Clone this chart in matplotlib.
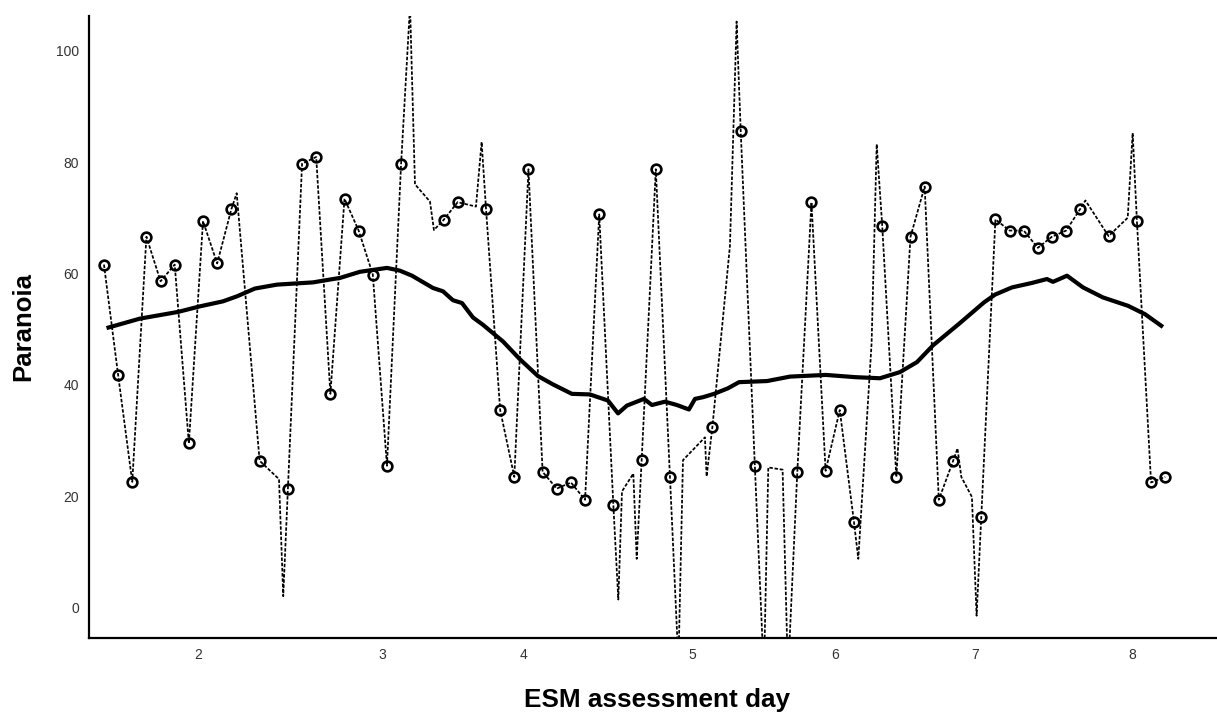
import matplotlib
matplotlib.use("Agg")
import matplotlib.pyplot as plt

plt.rcParams['font.family'] = ['Liberation Sans', 'DejaVu Sans']

# dashed series: all vertices (assessment position, paranoia value); observed flag = drawn with circle
path_pos = [1, 2, 3, 4, 5, 6, 7, 8, 9, 10, 10.38, 12, 13.37, 13.67, 14, 15, 16, 17, 18, 19,
            20, 21, 22, 22.63, 22.98, 24.04, 24.32, 25, 26, 27.29, 27.69, 28, 29, 30, 31, 32,
            33, 34, 35, 36, 37, 37.35, 37.61, 38.41, 38.65, 39, 40, 41, 41.6, 41.92, 43.47,
            43.59, 44, 45.24, 45.71, 46, 47, 47.64, 47.95, 48.96, 49.34, 50, 51, 52, 53, 54,
            54.31, 55.25, 55.61, 56, 57, 58, 59, 60, 61, 61.32, 61.59, 62.34, 62.67, 63, 64,
            65, 66, 67, 68, 69, 70, 70.36, 72, 73.35, 73.7, 74, 75, 76]
path_val = [61.6, 41.8, 22.6, 66.6, 58.6, 61.6, 29.5, 69.4, 61.8, 71.5, 74.4, 26.4, 23.1, 2.1,
            21.4, 79.7, 80.9, 38.4, 73.4, 67.7, 59.8, 25.5, 79.7, 108.0, 76.0, 72.9, 67.8, 69.6,
            72.8, 72.0, 83.6, 71.6, 35.5, 23.5, 78.7, 24.4, 21.4, 22.5, 19.4, 70.6, 18.4, 1.5,
            20.9, 24.1, 8.8, 26.5, 78.7, 23.5, -10.0, 26.5, 30.6, 23.6, 32.5, 65.0, 105.2, 85.6,
            25.4, -12.0, 25.2, 24.8, -12.0, 24.4, 72.8, 24.6, 35.5, 15.5, 8.8, 47.5, 83.2, 68.6,
            23.5, 66.6, 75.6, 19.4, 26.3, 28.6, 23.5, 19.9, -1.4, 16.3, 69.7, 67.7, 67.7, 64.6,
            66.6, 67.7, 71.6, 73.1, 66.7, 70.0, 85.2, 69.4, 22.5, 23.5]
observed = [1, 1, 1, 1, 1, 1, 1, 1, 1, 1, 0, 1, 0, 0, 1, 1, 1, 1, 1, 1,
            1, 1, 1, 0, 0, 0, 0, 1, 1, 0, 0, 1, 1, 1, 1, 1,
            1, 1, 1, 1, 1, 0, 0, 0, 0, 1, 1, 1, 0, 0, 0,
            0, 1, 0, 0, 1, 1, 0, 0, 0, 0, 1, 1, 1, 1, 1,
            0, 0, 0, 1, 1, 1, 1, 1, 1, 0, 0, 0, 0, 1, 1,
            1, 1, 1, 1, 1, 1, 0, 1, 0, 0, 1, 1, 1]

# smoothed trend line
trend_pos = [1.18, 3.54, 6.23, 7.78, 9.41, 10.40, 11.67, 13.23, 15.77, 17.18, 17.68, 19.09,
             21.0, 21.92, 22.77, 24.25, 24.96, 25.66, 26.30, 27.08, 27.78, 29.20, 30.40, 31.67,
             32.73, 34.07, 35.34, 36.62, 37.33, 37.96, 39.16, 39.73, 40.65, 41.49, 42.34, 42.77,
             43.33, 44.11, 45.10, 45.88, 47.86, 49.49, 52.02, 54.07, 55.84, 57.25, 58.46, 59.59,
             61.49, 63.19, 63.97, 65.17, 66.58, 67.64, 68.07, 69.06, 70.19, 71.60, 73.37, 74.57,
             75.84]
trend_val = [50.2, 51.9, 53.1, 54.1, 55.0, 55.9, 57.3, 58.0, 58.4, 59.0, 59.2, 60.3,
             61.0, 60.5, 59.6, 57.4, 56.8, 55.2, 54.7, 52.1, 50.8, 47.8, 44.6, 41.6,
             40.1, 38.4, 38.3, 37.2, 34.9, 36.3, 37.5, 36.4, 37.0, 36.4, 35.6, 37.5,
             37.8, 38.4, 39.4, 40.5, 40.7, 41.5, 41.8, 41.4, 41.2, 42.3, 44.1, 47.1,
             51.1, 54.8, 56.2, 57.5, 58.3, 59.0, 58.5, 59.6, 57.5, 55.7, 54.2, 52.7,
             50.4]

day_tick_pos = [7.69, 20.70, 30.68, 42.55, 52.66, 62.60, 73.70]
day_labels = ['2', '3', '4', '5', '6', '7', '8']
y_ticks = [0, 20, 40, 60, 80, 100]

fig = plt.figure(figsize=(12.17, 7.13), dpi=100)
ax = fig.add_axes([0.0731, 0.1052, 0.9269, 0.8724])

ax.plot(path_pos, path_val, color='black', lw=1.25, linestyle=(0, (2.0, 1.0)), zorder=2)
mx = [p for p, o in zip(path_pos, observed) if o]
my = [v for v, o in zip(path_val, observed) if o]
ax.plot(mx, my, linestyle='none', marker='o', ms=7.0, mew=1.9, mfc='none', mec='black', zorder=3)
ax.plot(trend_pos, trend_val, color='black', lw=3.0, solid_capstyle='butt',
        solid_joinstyle='round', zorder=4)

ax.set_xlim(-0.06, 79.66)
ax.set_ylim(-5.4, 106.2)
ax.set_xticks(day_tick_pos)
ax.set_xticklabels(day_labels)
ax.set_yticks(y_ticks)
ax.tick_params(length=0, labelsize=10, labelcolor='#333333', pad=7)
for s in ['top', 'right']:
    ax.spines[s].set_visible(False)
for s in ['left', 'bottom']:
    ax.spines[s].set_linewidth(1.6)
    ax.spines[s].set_color('black')

fig.text(23 / 1217, 1 - 327 / 713, 'Paranoia', rotation=90, ha='center', va='center',
         fontsize=18.5, fontweight='bold')
fig.text(657 / 1217, 1 - 706.5 / 713, 'ESM assessment day', ha='center', va='baseline',
         fontsize=18.8, fontweight='bold')

fig.savefig('out.png', dpi=100)
